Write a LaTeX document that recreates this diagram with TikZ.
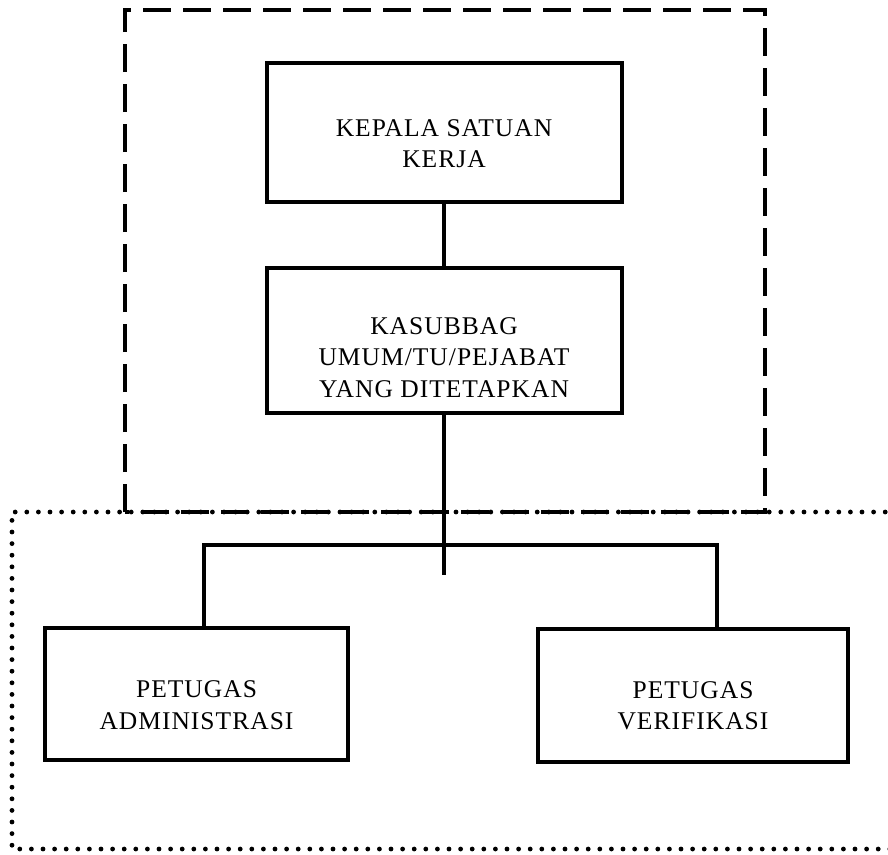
\documentclass[tikz,border=0pt]{standalone}
\usepackage{fontspec}
\setmainfont{Liberation Serif}
\newfontfamily\boxfont[LetterSpace=4]{Liberation Serif}
\begin{document}
\begin{tikzpicture}[x=1pt,y=-1pt,
  orgbox/.style={draw, line width=4pt, rectangle, inner sep=0pt},
  boxtext/.style={align=center, font=\boxfont\fontsize{25.5}{31.5}\selectfont, inner sep=0pt},
  conn/.style={line width=4pt},
  dashframe/.style={line width=3.2pt, dash pattern=on 28pt off 12pt},
  dotframe/.style={line width=4.8pt, line cap=round, dash pattern=on 0pt off 11.6pt}]
\clip (0,0) rectangle (888,854);
\fill[white] (0,0) rectangle (888,854);

% frames
\draw[dashframe] (125,512) -- (125,10) -- (765,10) -- (765,512) -- cycle;
\draw[dotframe] (920,512) -- (12,512) -- (12,849) -- (920,849);

% boxes
\node[orgbox, minimum width=355pt, minimum height=139pt] (kepala) at (444,132.5) {};
\node[boxtext] (kepalaT) at ([yshift=-11pt]kepala.center) {KEPALA SATUAN\\KERJA};

\node[orgbox, minimum width=355pt, minimum height=145pt] (kasub) at (444,340.5) {};
\node[boxtext] (kasubT) at ([yshift=-17pt]kasub.center) {KASUBBAG\\UMUM/TU/PEJABAT\\YANG DITETAPKAN};

\node[orgbox, minimum width=303pt, minimum height=132pt] (adm) at (196.5,694) {};
\node[boxtext] (admT) at ([yshift=-11pt]adm.center) {PETUGAS\\ADMINISTRASI};

\node[orgbox, minimum width=310pt, minimum height=133pt] (ver) at (693,695.5) {};
\node[boxtext] (verT) at ([yshift=-10pt]ver.center) {PETUGAS\\VERIFIKASI};

% connectors
\coordinate (stemEnd) at (444,575);
\coordinate (barL) at (204,545);
\coordinate (barR) at (717,545);
\draw[conn] (kepala.south) -- (kasub.north);
\draw[conn] (kasub.south) -- (stemEnd);
\draw[conn] ([xshift=-2pt]barL) -- ([xshift=2pt]barR);
\draw[conn] (barL) -- (barL |- adm.north);
\draw[conn] (barR) -- (barR |- ver.north);
\end{tikzpicture}
\end{document}
